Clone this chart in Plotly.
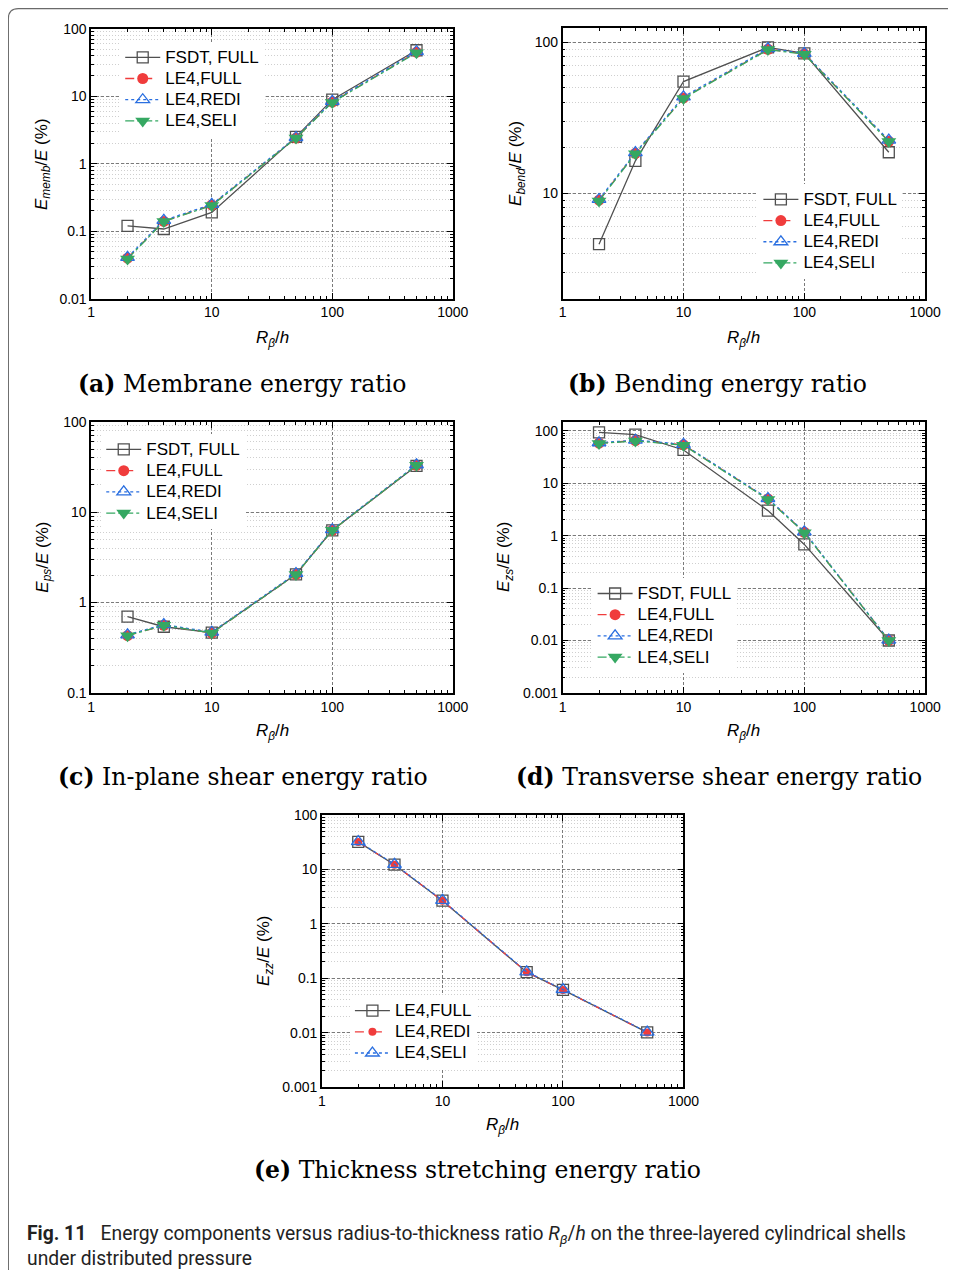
import plotly.graph_objects as go

# figure size (page body adds its default margin around it)
W, H = 940, 1262
# empirical mapping from reference-pixel coordinates to figure pixels
SX, OX = 0.98, 3.8
SY, OY = 0.987, 8.4
BODY = 8

# ---------------- data ----------------
ratio = [2, 4, 10, 50, 100, 500]

memb_fsdt_full = [0.12, 0.108, 0.19, 2.5, 8.9, 48]
memb_le4_full = [0.040, 0.14, 0.245, 2.4, 8.2, 45]
memb_le4_redi = [0.041, 0.145, 0.25, 2.45, 8.4, 46]
memb_le4_seli = [0.039, 0.14, 0.24, 2.4, 8.1, 44]

bend_fsdt_full = [4.6, 16.4, 55, 92.5, 84.5, 18.7]
bend_le4_full = [9.0, 18.4, 42.8, 90, 84, 22.1]
bend_le4_redi = [9.1, 18.6, 43.5, 91, 84.5, 22.5]
bend_le4_seli = [8.9, 18.3, 42.5, 89.5, 83.5, 22.0]

ps_fsdt_full = [0.70, 0.54, 0.465, 2.05, 6.3, 32.6]
ps_le4_full = [0.43, 0.56, 0.46, 2.05, 6.3, 33]
ps_le4_redi = [0.44, 0.57, 0.47, 2.1, 6.4, 33.5]
ps_le4_seli = [0.43, 0.56, 0.46, 2.05, 6.3, 33]

zs_fsdt_full = [93, 84, 43, 3.0, 0.68, 0.0100]
zs_le4_full = [58, 65, 54, 5.0, 1.16, 0.0101]
zs_le4_redi = [59, 66, 55, 5.1, 1.18, 0.0102]
zs_le4_seli = [57, 64, 53, 4.9, 1.14, 0.0100]

zz_le4_full = [32, 12.2, 2.66, 0.129, 0.061, 0.0101]
zz_le4_redi = [32, 12.2, 2.66, 0.129, 0.061, 0.0101]
zz_le4_seli = [32.5, 12.4, 2.7, 0.131, 0.062, 0.0102]

x_tickvals = [1, 10, 100, 1000]
x_ticktext = ["1", "10", "100", "1000"]
y_tickvals = [0.001, 0.01, 0.1, 1, 10, 100]
y_ticktext = ["0.001", "0.01", "0.1", "1", "10", "100"]

names4 = ["FSDT, FULL", "LE4,FULL", "LE4,REDI", "LE4,SELI"]
names3 = ["LE4,FULL", "LE4,REDI", "LE4,SELI"]

captions = ["<b>(a)</b> Membrane energy ratio",
            "<b>(b)</b> Bending energy ratio",
            "<b>(c)</b> In-plane shear energy ratio",
            "<b>(d)</b> Transverse shear energy ratio",
            "<b>(e)</b> Thickness stretching energy ratio"]
ytitles = ["<i>E</i><sub><i>memb</i></sub>/<i>E</i> (%)",
           "<i>E</i><sub><i>bend</i></sub>/<i>E</i> (%)",
           "<i>E</i><sub><i>ps</i></sub>/<i>E</i> (%)",
           "<i>E</i><sub><i>zs</i></sub>/<i>E</i> (%)",
           "<i>E</i><sub><i>zz</i></sub>/<i>E</i> (%)"]
xtitle = "<i>R</i><sub><i>β</i></sub>/<i>h</i>"
fig_caption = ("<b>Fig. 11</b>   Energy components versus radius-to-thickness ratio "
               "<i>R</i><sub><i>β</i></sub>/<i>h</i> on the three-layered cylindrical shells"
               "<br>under distributed pressure")

# ---------------- styles ----------------
GRAY = "#505050"
RED = "#f03c3c"
BLUE = "#2a6fe0"
GREEN = "#35a862"
style_fsdt = dict(line=dict(color=GRAY, width=1.3, dash="solid"),
                  marker=dict(symbol="square-open", size=11, color=GRAY, line=dict(width=1.3, color=GRAY)))
style_full = dict(line=dict(color=RED, width=1.3, dash="dash"),
                  marker=dict(symbol="circle", size=11, color=RED))
style_redi = dict(line=dict(color=BLUE, width=1.3, dash="dot"),
                  marker=dict(symbol="triangle-up-open", size=12, color=BLUE, line=dict(width=1.3, color=BLUE)))
style_seli = dict(line=dict(color=GREEN, width=1.3, dash="dashdot"),
                  marker=dict(symbol="triangle-down", size=13, color=GREEN))
style_e_full = dict(line=dict(color=GRAY, width=1.3, dash="solid"),
                    marker=dict(symbol="square-open", size=11, color=GRAY, line=dict(width=1.3, color=GRAY)))
style_e_redi = dict(line=dict(color=RED, width=1.3, dash="dash"),
                    marker=dict(symbol="circle", size=8, color=RED))
style_e_seli = dict(line=dict(color=BLUE, width=1.3, dash="dot"),
                    marker=dict(symbol="triangle-up-open", size=12, color=BLUE, line=dict(width=1.3, color=BLUE)))

LEG_TEXT_SIZE = 17


def legend_label(name):
    return f'<span style="font-size:{LEG_TEXT_SIZE}px">{name}</span>'


def px(x):
    return ((x - OX) / SX - BODY) / W


def py(y):
    return 1 - ((y - OY) / SY - BODY) / H


# panel geometry in reference pixels: (left, right, top, bottom)
panels = [(91, 453, 29, 299), (563, 926, 28, 299), (91, 453, 422, 693),
          (563, 926, 422, 693), (322, 684, 815, 1087)]
yranges = [[-2, 2], [0.301, 2.097], [-1, 2], [-3, 2.17], [-3, 2]]

fig = go.Figure()

series = [
    [memb_fsdt_full, memb_le4_full, memb_le4_redi, memb_le4_seli],
    [bend_fsdt_full, bend_le4_full, bend_le4_redi, bend_le4_seli],
    [ps_fsdt_full, ps_le4_full, ps_le4_redi, ps_le4_seli],
    [zs_fsdt_full, zs_le4_full, zs_le4_redi, zs_le4_seli],
    [zz_le4_full, zz_le4_redi, zz_le4_seli],
]
styles4 = [style_fsdt, style_full, style_redi, style_seli]
styles3 = [style_e_full, style_e_redi, style_e_seli]

for i, ser in enumerate(series):
    suffix = "" if i == 0 else str(i + 1)
    names = names4 if len(ser) == 4 else names3
    styles = styles4 if len(ser) == 4 else styles3
    for vals, nm, st in zip(ser, names, styles):
        fig.add_trace(go.Scatter(
            x=ratio, y=vals, name=legend_label(nm), mode="lines+markers",
            line=st["line"], marker=st["marker"],
            xaxis="x" + suffix, yaxis="y" + suffix,
            legend="legend" + suffix, showlegend=True))

layout = dict(width=W, height=H, margin=dict(l=0, r=0, t=0, b=0),
              paper_bgcolor="white", plot_bgcolor="white",
              font=dict(family="Liberation Sans, Arial", size=14, color="black"))

major_grid = dict(showgrid=True, gridcolor="#7a7a7a", griddash="3px,2px", gridwidth=0.9)
for i, (l, r, t, b) in enumerate(panels):
    suffix = "" if i == 0 else str(i + 1)
    xa = dict(type="log", range=[0, 3], domain=[px(l), px(r)], anchor="y" + suffix,
              tickmode="array", tickvals=x_tickvals, ticktext=x_ticktext,
              ticks="inside", ticklen=6, tickwidth=1.2, tickcolor="black",
              showline=True, linecolor="black", linewidth=1.6, mirror="allticks",
              zeroline=False, tickfont=dict(size=14, family="Liberation Sans"),
              minor=dict(dtick="D1", ticks="inside", ticklen=3, tickcolor="black", showgrid=False),
              **major_grid)
    ya = dict(type="log", range=yranges[i], domain=[py(b), py(t)], anchor="x" + suffix,
              tickmode="array", tickvals=y_tickvals, ticktext=y_ticktext,
              ticks="inside", ticklen=6, tickwidth=1.2, tickcolor="black",
              showline=True, linecolor="black", linewidth=1.6, mirror="allticks",
              zeroline=False, tickfont=dict(size=14, family="Liberation Sans"),
              minor=dict(dtick="D1", ticks="inside", ticklen=3, tickcolor="black",
                         showgrid=True, gridcolor="#cfcfcf", griddash="1px,2px", gridwidth=0.8),
              **major_grid)
    layout["xaxis" + suffix] = xa
    layout["yaxis" + suffix] = ya

# legends: (reference x where item text starts, reference y of first row centre)
leg_text = [(166, 57), (805, 199), (147, 449), (639, 593), (396, 1010)]
for i, (tx, ry) in enumerate(leg_text):
    key = "legend" if i == 0 else "legend" + str(i + 1)
    layout[key] = dict(x=px(tx - 46), y=py(ry - 15), xanchor="left", yanchor="top",
                       bgcolor="white", borderwidth=0, itemwidth=35,
                       font=dict(family="Liberation Sans, Arial", size=14, color="black"),
                       tracegroupgap=0, itemclick=False)

fig.update_layout(**layout)

annotations = []
ytitle_x = [42, 518, 44, 506, 265]
xtitle_y = [339, 339, 732, 732, 1126]
caption_pos = [(242, 384), (718, 384), (243, 777), (720, 777), (478, 1170)]
for i, (l, r, t, b) in enumerate(panels):
    annotations.append(dict(text=ytitles[i], x=px(ytitle_x[i]), y=py((t + b) / 2),
                            xref="paper", yref="paper", textangle=-90, showarrow=False,
                            xanchor="center", yanchor="middle",
                            font=dict(family="Liberation Sans, Arial", size=17)))
    annotations.append(dict(text=xtitle, x=px((l + r) / 2), y=py(xtitle_y[i]),
                            xref="paper", yref="paper", showarrow=False,
                            xanchor="center", yanchor="middle",
                            font=dict(family="Liberation Sans, Arial", size=17)))
    cx, cy = caption_pos[i]
    annotations.append(dict(text=captions[i], x=px(cx), y=py(cy),
                            xref="paper", yref="paper", showarrow=False,
                            xanchor="center", yanchor="middle",
                            font=dict(family="DejaVu Serif", size=23.5)))
annotations.append(dict(text=fig_caption, x=px(25), y=py(1246), xref="paper", yref="paper",
                        showarrow=False, xanchor="left", yanchor="middle", align="left",
                        font=dict(family="Roboto", size=19.3, color="#222")))
fig.update_layout(annotations=annotations)

# rounded outer frame (top edge kept inside the drawable page area)
frame = (f"M {px(990)},{py(9)} L {px(18)},{py(9)} Q {px(8)},{py(9)} {px(8)},{py(19)} "
         f"L {px(8)},{py(1268)} Q {px(8)},{py(1278)} {px(18)},{py(1278)}")
fig.add_shape(type="path", path=frame, xref="paper", yref="paper",
              line=dict(color="#6a6a6a", width=1.2))

fig.write_html("out.html")
